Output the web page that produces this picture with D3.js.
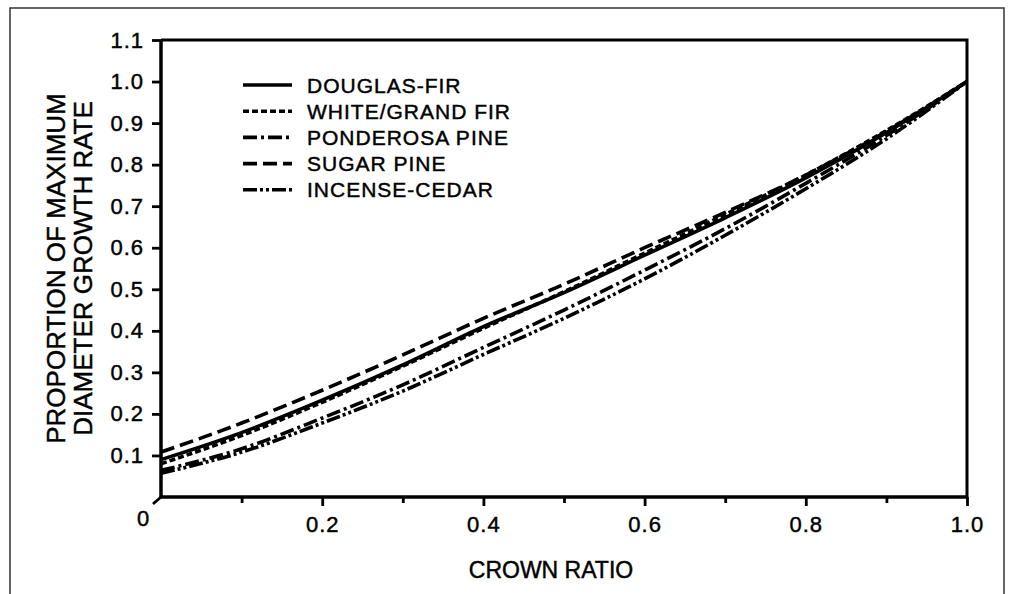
<!DOCTYPE html>
<html>
<head>
<meta charset="utf-8">
<script src="https://cdn.jsdelivr.net/npm/d3@7/dist/d3.min.js"></script>
<style>
  html, body { margin: 0; padding: 0; background: #fff; }
  svg { display: block; }
  text { font-family: "Liberation Sans", Arial, Helvetica, sans-serif; fill: #000; stroke: #000; stroke-width: 0.45px; }
</style>
</head>
<body>
<svg id="chart" width="1011" height="594"></svg>
<script>
// ---- data ----
const crownRatio = [0, 0.1, 0.2, 0.3, 0.4, 0.5, 0.6, 0.7, 0.8, 0.9, 1.0];
const douglasFir    = [0.090, 0.155, 0.233, 0.318, 0.410, 0.492, 0.582, 0.672, 0.768, 0.877, 1.0];
const whiteGrandFir = [0.080, 0.148, 0.228, 0.315, 0.406, 0.494, 0.587, 0.680, 0.775, 0.882, 1.0];
const ponderosaPine = [0.064, 0.116, 0.190, 0.270, 0.360, 0.450, 0.546, 0.646, 0.755, 0.870, 1.0];
const sugarPine     = [0.108, 0.178, 0.257, 0.342, 0.430, 0.512, 0.600, 0.685, 0.775, 0.880, 1.0];
const incenseCedar  = [0.057, 0.108, 0.178, 0.255, 0.343, 0.430, 0.525, 0.630, 0.742, 0.862, 1.0];

const seriesNames = ["DOUGLAS-FIR", "WHITE/GRAND FIR", "PONDEROSA PINE", "SUGAR PINE", "INCENSE-CEDAR"];
const seriesValues = [douglasFir, whiteGrandFir, ponderosaPine, sugarPine, incenseCedar];
const dashes = ["none", "6,3", "14,4,3,4", "14,6", "14,3,3,3,3,3"];

const yTicks = [0.1, 0.2, 0.3, 0.4, 0.5, 0.6, 0.7, 0.8, 0.9, 1.0, 1.1];
const xMajorTicks = [0.2, 0.4, 0.6, 0.8, 1.0];
const xMinorTicks = [0.1, 0.3, 0.5, 0.7, 0.9];
const xTitle = "CROWN RATIO";
const yTitle = ["PROPORTION OF MAXIMUM", "DIAMETER GROWTH RATE"];

// ---- drawing ----
const svg = d3.select("#chart");
const x = d3.scaleLinear().domain([0, 1]).range([161, 967]);
const y = d3.scaleLinear().domain([0, 1.1]).range([497, 40]);

// outer frame
svg.append("rect").attr("x", 10).attr("y", 8).attr("width", 994).attr("height", 600)
  .attr("fill", "none").attr("stroke", "#333").attr("stroke-width", 1.5);

// top and right box lines
svg.append("path")
  .attr("d", `M${x(0)},${y(1.1)} H${x(1)} V${y(0)}`)
  .attr("fill", "none").attr("stroke", "#000").attr("stroke-width", 3);

// y axis
const yAxis = d3.axisLeft(y).tickValues(yTicks).tickSize(9).tickPadding(8)
  .tickFormat(d3.format(".1f"));
const gy = svg.append("g").attr("transform", `translate(${x(0)},0)`).call(yAxis);
gy.select(".domain").attr("d", `M0,${y(1.1)}V${y(0)}`).attr("stroke", "#000").attr("stroke-width", 3.5);
gy.selectAll(".tick line").attr("stroke", "#000").attr("stroke-width", 2.8);
gy.selectAll(".tick text").attr("font-size", 22).attr("letter-spacing", 1)
  .style("font-family", '"Liberation Sans", Arial, sans-serif').attr("fill", "#000");

// x axis (major)
const xAxis = d3.axisBottom(x).tickValues(xMajorTicks).tickSize(9).tickPadding(10)
  .tickFormat(d3.format(".1f"));
const gx = svg.append("g").attr("transform", `translate(0,${y(0)})`).call(xAxis);
gx.select(".domain").attr("d", `M${x(0)},0H${x(1)}`).attr("stroke", "#000").attr("stroke-width", 3.5);
gx.selectAll(".tick line").attr("stroke", "#000").attr("stroke-width", 2.8);
gx.selectAll(".tick text").attr("font-size", 22).attr("letter-spacing", 1)
  .style("font-family", '"Liberation Sans", Arial, sans-serif').attr("fill", "#000");

// x axis minor ticks
const gxm = svg.append("g").attr("transform", `translate(0,${y(0)})`)
  .call(d3.axisBottom(x).tickValues(xMinorTicks).tickSize(6).tickFormat(""));
gxm.select(".domain").remove();
gxm.selectAll(".tick line").attr("stroke", "#000").attr("stroke-width", 2.8);

// origin label and small diagonal tick
svg.append("line").attr("x1", x(0)).attr("y1", y(0)).attr("x2", x(0) - 8).attr("y2", y(0) + 7)
  .attr("stroke", "#000").attr("stroke-width", 2.8);
svg.append("text").attr("x", x(0) - 18).attr("y", y(0) + 29).attr("text-anchor", "middle")
  .attr("font-size", 22).text("0");

// curves
const line = d3.line().x((d, i) => x(crownRatio[i])).y(d => y(d)).curve(d3.curveMonotoneX);
seriesValues.forEach((vals, k) => {
  svg.append("path").datum(vals).attr("d", line)
    .attr("fill", "none").attr("stroke", "#000").attr("stroke-width", 3.6)
    .attr("stroke-dasharray", dashes[k]);
});

// legend
const lg = svg.append("g");
seriesNames.forEach((name, k) => {
  const ly = 85 + k * 26.2;
  lg.append("line").attr("x1", 243).attr("x2", 292).attr("y1", ly).attr("y2", ly)
    .attr("stroke", "#000").attr("stroke-width", 3.6).attr("stroke-dasharray", dashes[k]);
  lg.append("text").attr("x", 307).attr("y", ly + 7.5).attr("font-size", 21)
    .attr("letter-spacing", 1).text(name);
});

// titles
svg.append("text").attr("x", 551).attr("y", 578).attr("text-anchor", "middle")
  .attr("font-size", 23).text(xTitle);
yTitle.forEach((t, i) => {
  svg.append("text")
    .attr("transform", `translate(${65 + i * 27},${(y(0) + y(1.1)) / 2}) rotate(-90)`)
    .attr("text-anchor", "middle").attr("font-size", 26).text(t);
});
</script>
</body>
</html>
